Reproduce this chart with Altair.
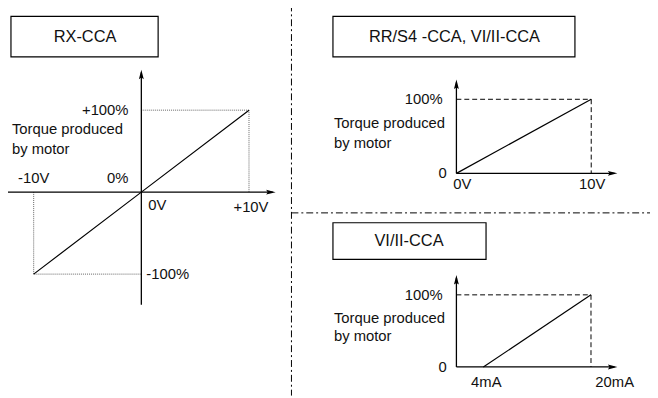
import altair as alt
import pandas as pd

# ---------------- data ----------------
rx_volts = [-10, 0, 10]          # RX-CCA input (V)
rx_torque = [-100, 0, 100]       # torque produced (%)
rr_volts = [0, 10]               # RR/S4 -CCA, VI/II-CCA input (V)
rr_torque = [0, 100]
vi_ma = [4, 20]                  # VI/II-CCA input (mA)
vi_torque = [0, 100]

panel_titles = ["RX-CCA", "RR/S4 -CCA, VI/II-CCA", "VI/II-CCA"]
caption = ["Torque produced", "by motor"]
rx_xlabels = ["-10V", "0V", "+10V"]
rx_ylabels = ["+100%", "0%", "-100%"]
rr_xlabels = ["0V", "10V"]
vi_xlabels = ["4mA", "20mA"]
right_ylabels = ["100%", "0"]

# ---------------- layout (pixel canvas) ----------------
W, H, M = 658, 398, 8
FONT = "Liberation Sans"
FS = 15
FS_TITLE = 16.6

# panel affine maps: (x0, px per unit, y0, px per %)
LEFT = dict(x0=143, sx=10.9, y0=192, sy=0.83)
RTOP = dict(x0=462, sx=13.65, y0=173, sy=0.75)
RBOT = dict(x0=462, sx=6.8125, y0=369, sy=0.73)


def px(p, v):
    return p["x0"] + v * p["sx"]


def py(p, t):
    return p["y0"] - t * p["sy"]


X = alt.Scale(domain=[M, W], range=[0, W - M])
Y = alt.Scale(domain=[M, H], reverse=True)


def seg_layer(rows, **mark):
    df = pd.DataFrame(rows, columns=["x", "y", "x2", "y2"])
    return alt.Chart(df).mark_rule(**mark).encode(
        x=alt.X("x:Q", scale=X, axis=None),
        y=alt.Y("y:Q", scale=Y, axis=None),
        x2="x2:Q", y2="y2:Q")


# data curves
curves = []
for s, (p, xs, ts) in enumerate([(LEFT, rx_volts, rx_torque),
                                  (RTOP, rr_volts, rr_torque),
                                  (RBOT, vi_ma, vi_torque)]):
    for i, (v, t) in enumerate(zip(xs, ts)):
        curves.append(dict(x=px(p, v), y=py(p, t), s=s, o=i))
curve_df = pd.DataFrame(curves)
curve_layer = alt.Chart(curve_df).mark_line(color="black", strokeWidth=1.2).encode(
    x=alt.X("x:Q", scale=X, axis=None),
    y=alt.Y("y:Q", scale=Y, axis=None),
    detail="s:N", order="o:Q")

# axes lines
axes = seg_layer([
    (7, LEFT["y0"], 276, LEFT["y0"]),
    (LEFT["x0"], 306, LEFT["x0"], 71),
    (RTOP["x0"], RTOP["y0"], 622, RTOP["y0"]),
    (RTOP["x0"], RTOP["y0"], RTOP["x0"], 81),
    (RBOT["x0"], RBOT["y0"], 622, RBOT["y0"]),
    (RBOT["x0"], RBOT["y0"], RBOT["x0"], 279),
], color="black", strokeWidth=1.3)

# arrow heads (tip positions; shifted to the glyph centre below)
tips = [
    (279, LEFT["y0"], 90), (LEFT["x0"], 68, 0),
    (625, RTOP["y0"], 90), (RTOP["x0"], 78, 0),
    (625, RBOT["y0"], 90), (RBOT["x0"], 276, 0),
]
HALF = 5.5
arrow_df = pd.DataFrame(
    [dict(x=(x - HALF if a == 90 else x), y=(y + HALF if a == 0 else y), a=a)
     for x, y, a in tips])
arrow_shape = "M0,-1L-0.45,0.75L0,0.45L0.45,0.75Z"
arrows = alt.Chart(arrow_df).mark_point(
    shape=arrow_shape, filled=True, color="black", opacity=1, size=(2 * HALF) ** 2,
    strokeWidth=0).encode(
    x=alt.X("x:Q", scale=X, axis=None),
    y=alt.Y("y:Q", scale=Y, axis=None),
    angle=alt.Angle("a:Q", scale=None))

# guide lines
lx10, ly100 = px(LEFT, 10), py(LEFT, 100)
lxm10, lym100 = px(LEFT, -10), py(LEFT, -100)
dotted = seg_layer([
    (LEFT["x0"], ly100, lx10, ly100),
    (lx10, ly100, lx10, LEFT["y0"]),
    (lxm10, lym100, LEFT["x0"], lym100),
    (lxm10, LEFT["y0"], lxm10, lym100),
], color="#666666", strokeWidth=1, strokeDash=[1, 1])

rtx, rty = px(RTOP, 10), py(RTOP, 100)
rbx, rby = px(RBOT, 20), py(RBOT, 100)
dashed = seg_layer([
    (RTOP["x0"], rty, rtx, rty),
    (rtx, rty, rtx, RTOP["y0"]),
    (RBOT["x0"], rby, rbx, rby),
    (rbx, rby, rbx, RBOT["y0"]),
], color="black", strokeWidth=1, strokeDash=[5, 3])

# dash-dot dividers
dividers = seg_layer([
    (295, 2, 295, H),
    (295, 213, W, 213),
], color="black", strokeWidth=1, strokeDash=[7, 3, 2, 3])

# title boxes
box_df = pd.DataFrame([
    dict(x=11, x2=160, y=14, y2=55),
    dict(x=337, x2=582, y=14, y2=55),
    dict(x=337, x2=492, y=223, y2=260),
])
boxes = alt.Chart(box_df).mark_rect(fill="white", stroke="black", strokeWidth=1.2).encode(
    x=alt.X("x:Q", scale=X, axis=None), x2="x2:Q",
    y=alt.Y("y:Q", scale=Y, axis=None), y2="y2:Q")

# text labels
title_rows = [
    (86, 35, panel_titles[0]), (460, 35, panel_titles[1]), (414, 242, panel_titles[2]),
]
centre_rows = [
    (px(LEFT, -10), 178, rx_xlabels[0]), (px(LEFT, 10) + 2, 207, rx_xlabels[2]),
    (448, py(RTOP, 0), right_ylabels[1]),
    (RTOP["x0"] + 6, 184, rr_xlabels[0]), (px(RTOP, 10) + 1, 184, rr_xlabels[1]),
    (448, py(RBOT, 0), right_ylabels[1]),
    (px(RBOT, 4) + 3, 384, vi_xlabels[0]), (px(RBOT, 20) + 24, 384, vi_xlabels[1]),
]
right_rows = [
    (130, py(LEFT, 100), rx_ylabels[0]), (130, 178, rx_ylabels[1]),
    (448, py(RTOP, 100), right_ylabels[0]),
    (448, py(RBOT, 100), right_ylabels[0]),
]
left_rows = [
    (12, 128, caption[0]), (12, 148, caption[1]),
    (150, 205, rx_xlabels[1]), (148, py(LEFT, -100), rx_ylabels[2]),
    (338, 122, caption[0]), (338, 142, caption[1]),
    (338, 320, caption[0]), (338, 338, caption[1]),
]


def text_layer(rows, align, size=FS):
    df = pd.DataFrame(rows, columns=["x", "y", "t"])
    return alt.Chart(df).mark_text(
        align=align, baseline="middle", font=FONT, fontSize=size, color="#111111").encode(
        x=alt.X("x:Q", scale=X, axis=None),
        y=alt.Y("y:Q", scale=Y, axis=None),
        text="t:N")


chart = alt.layer(
    dividers, boxes, dotted, dashed, axes, curve_layer, arrows,
    text_layer(title_rows, "center", FS_TITLE),
    text_layer(centre_rows, "center"),
    text_layer(right_rows, "right"),
    text_layer(left_rows, "left"),
).properties(
    width=W - M, height=H - M, padding=0, autosize="none", background="white"
).configure_view(stroke=None)

chart.save("out.html", embed_options={"renderer": "svg", "actions": False})
